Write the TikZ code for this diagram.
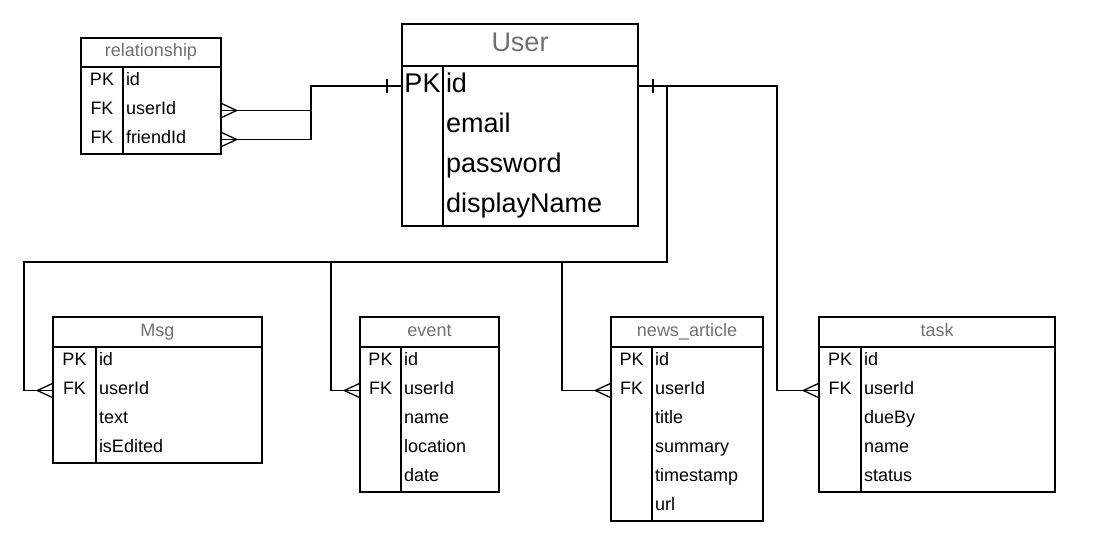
\documentclass[tikz,border=0pt]{standalone}
\usepackage{fontspec}
\setmainfont{Liberation Sans}
\usepackage{tikz}
\usetikzlibrary{arrows.meta,positioning}
\definecolor{headGray}{RGB}{112,112,112}
\newcommand{\tabFont}{\fontsize{18}{21}\selectfont}
\newcommand{\userFont}{\fontsize{27}{31}\selectfont}
\tikzset{
     tabHead/.style =
        { draw
        , anchor=north west
        , minimum width=#1
        , minimum height=30pt
        , inner sep=0pt
        , outer sep=0pt
        , text=headGray
        , text height=13pt
        , text depth=5pt
        , font=\tabFont
        }
   , keyCell/.style =
        { minimum width=#1
        , minimum height=29pt
        , inner sep=0pt
        , outer sep=0pt
        , text height=13pt
        , text depth=5pt
        , font=\tabFont
        }
   , fieldCell/.style =
        { text width=#1
        , align=left
        , minimum height=29pt
        , inner xsep=3pt
        , inner ysep=0pt
        , outer sep=0pt
        , text height=13pt
        , text depth=5pt
        , font=\tabFont
        }
   , bigRow/.style =
        { minimum height=40pt
        , text height=19pt
        , text depth=6pt
        , font=\userFont
        }
   , tabLine/.style = {draw}
   , link/.style = {draw}
   , crow/.tip = {Straight Barb[reversed, length=15pt, width=14pt]}
   , manyEnd/.style = {postaction={draw, -crow}}
   , manyStart/.style = {postaction={draw, crow-}}
}

\begin{document}
\begin{tikzpicture}
            [ x=1pt
            , y=-1pt
            , line width=1.3pt
            ]
            \useasboundingbox (0,0) rectangle (1095,549);

            % relationship
            \node[tabHead=140pt, minimum height=29pt] (relH) at (81,38) {relationship};
            \node[keyCell=42pt, anchor=north west] (relK1) at (relH.south west) {PK};
            \node[fieldCell=92pt, right=0pt of relK1] (relF1) {id};
            \node[keyCell=42pt, below=0pt of relK1] (relK2) {FK};
            \node[fieldCell=92pt, right=0pt of relK2] (relF2) {userId};
            \node[keyCell=42pt, below=0pt of relK2] (relK3) {FK};
            \node[fieldCell=92pt, right=0pt of relK3] (relF3) {friendId};
            \draw[tabLine] (relK1.north west) rectangle (relF3.south east);
            \draw[tabLine] (relK1.north east) -- (relK3.south east);

            % User
            \node[tabHead=236pt, minimum height=42pt, font=\userFont, text height=19pt, text depth=7pt] (userH) at (402,24) {User};
            \node[keyCell=41pt, bigRow, anchor=north west] (userK1) at (userH.south west) {PK};
            \node[fieldCell=189pt, bigRow, right=0pt of userK1] (userF1) {id};
            \node[keyCell=41pt, bigRow, below=0pt of userK1] (userK2) {};
            \node[fieldCell=189pt, bigRow, right=0pt of userK2] (userF2) {email};
            \node[keyCell=41pt, bigRow, below=0pt of userK2] (userK3) {};
            \node[fieldCell=189pt, bigRow, right=0pt of userK3] (userF3) {password};
            \node[keyCell=41pt, bigRow, below=0pt of userK3] (userK4) {};
            \node[fieldCell=189pt, bigRow, right=0pt of userK4] (userF4) {displayName};
            \draw[tabLine] (userK1.north west) rectangle (userF4.south east);
            \draw[tabLine] (userK1.north east) -- (userK4.south east);

            % Msg
            \node[tabHead=209pt] (msgH) at (53,317) {Msg};
            \node[keyCell=43pt, anchor=north west] (msgK1) at (msgH.south west) {PK};
            \node[fieldCell=160pt, right=0pt of msgK1] (msgF1) {id};
            \node[keyCell=43pt, below=0pt of msgK1] (msgK2) {FK};
            \node[fieldCell=160pt, right=0pt of msgK2] (msgF2) {userId};
            \node[keyCell=43pt, below=0pt of msgK2] (msgK3) {};
            \node[fieldCell=160pt, right=0pt of msgK3] (msgF3) {text};
            \node[keyCell=43pt, below=0pt of msgK3] (msgK4) {};
            \node[fieldCell=160pt, right=0pt of msgK4] (msgF4) {isEdited};
            \draw[tabLine] (msgK1.north west) rectangle (msgF4.south east);
            \draw[tabLine] (msgK1.north east) -- (msgK4.south east);

            % event
            \node[tabHead=139pt] (evtH) at (360,317) {event};
            \node[keyCell=41pt, anchor=north west] (evtK1) at (evtH.south west) {PK};
            \node[fieldCell=92pt, right=0pt of evtK1] (evtF1) {id};
            \node[keyCell=41pt, below=0pt of evtK1] (evtK2) {FK};
            \node[fieldCell=92pt, right=0pt of evtK2] (evtF2) {userId};
            \node[keyCell=41pt, below=0pt of evtK2] (evtK3) {};
            \node[fieldCell=92pt, right=0pt of evtK3] (evtF3) {name};
            \node[keyCell=41pt, below=0pt of evtK3] (evtK4) {};
            \node[fieldCell=92pt, right=0pt of evtK4] (evtF4) {location};
            \node[keyCell=41pt, below=0pt of evtK4] (evtK5) {};
            \node[fieldCell=92pt, right=0pt of evtK5] (evtF5) {date};
            \draw[tabLine] (evtK1.north west) rectangle (evtF5.south east);
            \draw[tabLine] (evtK1.north east) -- (evtK5.south east);

            % news_article
            \node[tabHead=152pt] (newsH) at (611,317) {news\_article};
            \node[keyCell=41pt, anchor=north west] (newsK1) at (newsH.south west) {PK};
            \node[fieldCell=105pt, right=0pt of newsK1] (newsF1) {id};
            \node[keyCell=41pt, below=0pt of newsK1] (newsK2) {FK};
            \node[fieldCell=105pt, right=0pt of newsK2] (newsF2) {userId};
            \node[keyCell=41pt, below=0pt of newsK2] (newsK3) {};
            \node[fieldCell=105pt, right=0pt of newsK3] (newsF3) {title};
            \node[keyCell=41pt, below=0pt of newsK3] (newsK4) {};
            \node[fieldCell=105pt, right=0pt of newsK4] (newsF4) {summary};
            \node[keyCell=41pt, below=0pt of newsK4] (newsK5) {};
            \node[fieldCell=105pt, right=0pt of newsK5] (newsF5) {timestamp};
            \node[keyCell=41pt, below=0pt of newsK5] (newsK6) {};
            \node[fieldCell=105pt, right=0pt of newsK6] (newsF6) {url};
            \draw[tabLine] (newsK1.north west) rectangle (newsF6.south east);
            \draw[tabLine] (newsK1.north east) -- (newsK6.south east);

            % task
            \node[tabHead=236pt] (taskH) at (819,317) {task};
            \node[keyCell=42pt, anchor=north west] (taskK1) at (taskH.south west) {PK};
            \node[fieldCell=188pt, right=0pt of taskK1] (taskF1) {id};
            \node[keyCell=42pt, below=0pt of taskK1] (taskK2) {FK};
            \node[fieldCell=188pt, right=0pt of taskK2] (taskF2) {userId};
            \node[keyCell=42pt, below=0pt of taskK2] (taskK3) {};
            \node[fieldCell=188pt, right=0pt of taskK3] (taskF3) {dueBy};
            \node[keyCell=42pt, below=0pt of taskK3] (taskK4) {};
            \node[fieldCell=188pt, right=0pt of taskK4] (taskF4) {name};
            \node[keyCell=42pt, below=0pt of taskK4] (taskK5) {};
            \node[fieldCell=188pt, right=0pt of taskK5] (taskF5) {status};
            \draw[tabLine] (taskK1.north west) rectangle (taskF5.south east);
            \draw[tabLine] (taskK1.north east) -- (taskK5.south east);

            % relations
            \coordinate (busR) at (667,262);
            \coordinate (busL) at (24,262);
            \coordinate (busE) at (331,262);
            \coordinate (busN) at (562,262);

            \draw[link, manyStart] (relF2.east) -- ++(90,0) |- (userK1.west);
            \draw[link, manyStart] (relF3.east) -- ++(90,0) |- (userK1.west);
            \draw[link] (userK1.west) ++(-15,-7) -- ++(0,14);
            \draw[link] (userF1.east) ++(15,-7) -- ++(0,14);
            \draw[link, manyEnd] (userF1.east) -| (busR) -- (busL) |- (msgK2.west);
            \draw[link, manyEnd] (busE) |- (evtK2.west);
            \draw[link, manyEnd] (busN) |- (newsK2.west);
            \draw[link, manyEnd] (userF1.east) -- ++(139,0) |- (taskK2.west);
        \end{tikzpicture}
\end{document}
